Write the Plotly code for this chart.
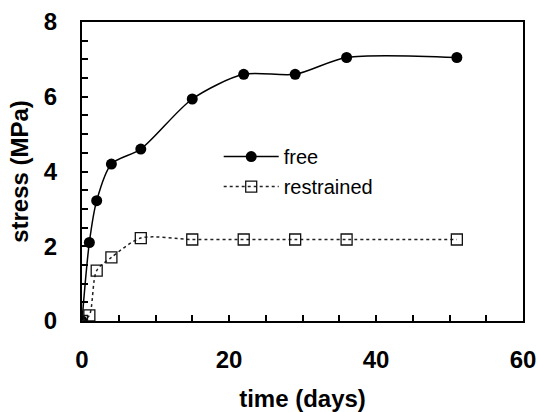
import plotly.graph_objects as go

days_free = [0, 1, 2, 4, 8, 15, 22, 29, 36, 51]
stress_free = [0, 2.1, 3.22, 4.2, 4.6, 5.94, 6.6, 6.6, 7.05, 7.05]
days_restrained = [0, 1, 2, 4, 8, 15, 22, 29, 36, 51]
stress_restrained = [0, 0.15, 1.35, 1.7, 2.22, 2.18, 2.18, 2.18, 2.18, 2.18]

fig = go.Figure()
fig.add_trace(go.Scatter(
    x=days_free, y=stress_free, name="free", mode="lines+markers", legendgroup="a",
    line=dict(color="black", width=1.5, shape="spline", smoothing=0.8),
    marker=dict(symbol="circle", size=11, color="black"),
))
fig.add_trace(go.Scatter(
    x=days_restrained, y=stress_restrained, name="restrained", mode="lines+markers", legendgroup="b",
    line=dict(color="#222222", width=1.5, dash="dot", shape="spline", smoothing=0.8),
    marker=dict(symbol="square-open", size=11, color="#111111", line=dict(width=1.3)),
))

tickfont = dict(family="Liberation Sans", size=24, color="black", weight="bold")
axis_common = dict(
    showline=True, linecolor="black", linewidth=2, mirror=True,
    ticks="inside", ticklen=6, tickcolor="black", tickwidth=1.5,
    showgrid=False, zeroline=False, automargin=False,
    tickfont=tickfont,
)

fig.update_xaxes(range=[0, 60], dtick=20, tick0=0,
                 minor=dict(dtick=5, ticks="inside", ticklen=6, tickcolor="black", tickwidth=1.5),
                 ticklabelstandoff=16,
                 title=dict(text="time (days)", font=tickfont, standoff=18),
                 **axis_common)
fig.update_yaxes(range=[0, 8], dtick=2, tick0=0,
                 minor=dict(dtick=0.5, ticks="inside", ticklen=6, tickcolor="black", tickwidth=1.5),
                 ticklabelstandoff=18,
                 title=dict(text="stress (MPa)", font=tickfont, standoff=8),
                 **axis_common)

fig.update_layout(
    width=538, height=412,
    margin=dict(l=82, r=15, t=22, b=91),
    plot_bgcolor="white", paper_bgcolor="white",
    showlegend=True,
    legend=dict(x=0.31, y=0.615, xanchor="left", yanchor="top",
                bgcolor="rgba(0,0,0,0)", font=dict(family="Liberation Sans", size=20, color="black"),
                traceorder="grouped", tracegroupgap=1, itemwidth=55),
)

fig.write_html("out.html")
